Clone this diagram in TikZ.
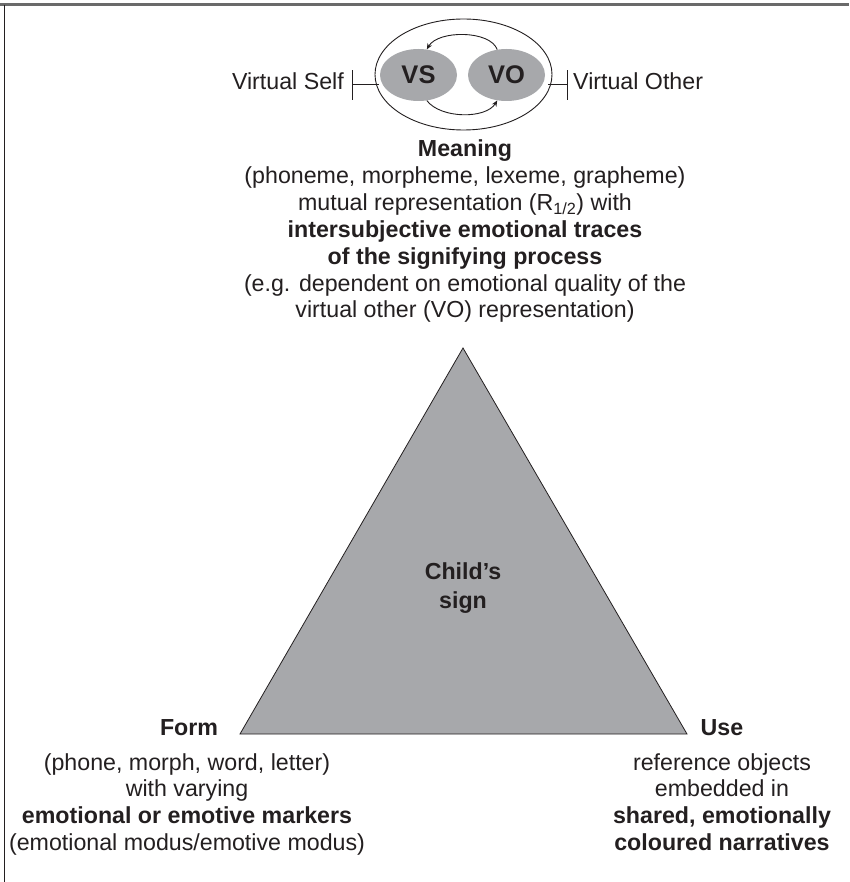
\documentclass[tikz,border=0pt]{standalone}
\usepackage{fontspec}
\setmainfont{Liberation Sans}
\usetikzlibrary{arrows.meta,shapes.geometric}
\definecolor{ink}{HTML}{231F20}
\definecolor{shade}{HTML}{A7A8AB}
\definecolor{rule}{HTML}{6A6A6A}
\begin{document}
\begin{tikzpicture}[x=1pt,y=-1pt,
  txt/.style={align=center, inner sep=0pt, text=ink,
    font=\fontsize{23.2}{26.9}\selectfont},
  head/.style={txt, font=\fontsize{23.2}{26.9}\selectfont\bfseries},
  blob/.style={ellipse, fill=shade, inner sep=0pt, minimum width=77pt,
    minimum height=52pt, text=ink, font=\fontsize{25.5}{28}\selectfont\bfseries},
  link/.style={draw=ink, line width=0.9pt},
  loop/.style={draw=ink, line width=0.9pt, -{Stealth[length=6pt,width=5pt]}}]
\useasboundingbox (0,0) rectangle (849,882);
\fill[white] (0,0) rectangle (849,882);

% frame lines
\draw[rule, line width=2.2pt] (0,4.6) -- (849,4.6);
\draw[ink, line width=1pt] (4.8,4.6) -- (4.8,882);

% virtual self / virtual other
\node[ellipse, draw=ink, line width=0.9pt, minimum width=177pt, minimum height=111pt,
  inner sep=0pt] (outer) at (463.5,74.5) {};
\node[blob] (vs) at (418.5,75) {VS};
\node[blob] (vo) at (506.5,75) {VO};
\draw[loop] (vo.110) .. controls (490,30) and (438,30) .. (vs.72);
\draw[loop] (vs.-72) .. controls (441,119) and (486,119) .. (vo.-110);

\coordinate (lt) at (352.7,84.5);
\coordinate (rt) at (567.7,84.5);
\draw[link] (lt) -- (379,84.5);
\draw[link] ([yshift=-15.5pt]lt) -- ([yshift=14.5pt]lt);
\draw[link] (548,84.5) -- (rt);
\draw[link] ([yshift=-15.5pt]rt) -- ([yshift=14.5pt]rt);
\node[txt, anchor=base east] (vself) at (344,90) {Virtual Self};
\node[txt, anchor=base west] (vother) at (573,90) {Virtual Other};

% meaning
\node[txt, anchor=north] (meaning) at (465,139.5) {\textbf{Meaning}\\
  (phoneme, morpheme, lexeme, grapheme)\\
  mutual representation (R\textsubscript{1/2}) with\\
  \textbf{intersubjective emotional traces}\\
  \textbf{of the signifying process}\\
  (e.g. dependent on emotional quality of the\\
  virtual other (VO) representation)};

% triangle
\coordinate (apex) at (463,348);
\coordinate (left) at (240,734);
\coordinate (right) at (687,734);
\filldraw[fill=shade, draw=ink, line width=0.8pt] (apex) -- (left) -- (right) -- cycle;
\node[txt, font=\fontsize{23.2}{29}\selectfont\bfseries] (sign) at (463,588) {Child’s\\sign};

% form
\node[head, anchor=base] (form) at (189,735.5) {Form};
\node[txt, anchor=north] (formtxt) at (187,753) {(phone, morph, word, letter)\\
  with varying\\
  \textbf{emotional or emotive markers}\\
  (emotional modus/emotive modus)};

% use
\node[head, anchor=base] (use) at (722,735.5) {Use};
\node[txt, anchor=north] (usetxt) at (722,753) {reference objects\\
  embedded in\\
  \textbf{shared, emotionally}\\
  \textbf{coloured narratives}};
\end{tikzpicture}
\end{document}
